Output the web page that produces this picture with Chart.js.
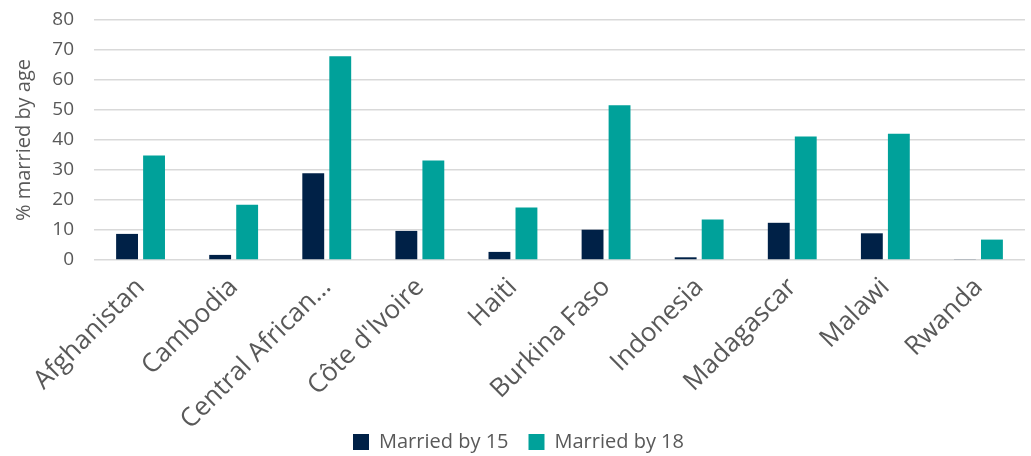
<!DOCTYPE html>
<html>
<head>
<meta charset="utf-8">
<script src="https://cdn.jsdelivr.net/npm/chart.js@4/dist/chart.umd.min.js"></script>
<style>
  html, body { margin: 0; padding: 0; background: #fff; }
  #wrap { width: 1031px; height: 456px; }
</style>
</head>
<body>
<div id="wrap"><canvas id="myChart"></canvas></div>
<script>
const countries = ['Afghanistan', 'Cambodia', 'Central African Republic', "Côte d'Ivoire", 'Haiti',
  'Burkina Faso', 'Indonesia', 'Madagascar', 'Malawi', 'Rwanda'];
const marriedBy15 = [8.7, 1.7, 28.9, 9.7, 2.7, 10.1, 0.9, 12.4, 8.9, 0.3];
const marriedBy18 = [34.8, 18.4, 67.9, 33.2, 17.5, 51.6, 13.5, 41.2, 42.1, 6.8];
const yTicks = [0, 10, 20, 30, 40, 50, 60, 70, 80];

const font = "'Open Sans', sans-serif";
const grey = '#595959';

const ctx = document.getElementById('myChart').getContext('2d');

const myChart = new Chart(ctx, {
  type: 'bar',
  data: {
    labels: countries,
    datasets: [{
      label: 'Married by 15',
      data: marriedBy15,
      backgroundColor: '#002147',
      categoryPercentage: 0.58,
      barPercentage: 0.81,
    }, {
      label: 'Married by 18',
      data: marriedBy18,
      backgroundColor: '#00A19A',
      categoryPercentage: 0.58,
      barPercentage: 0.81,
    }],
  },
  options: {
    responsive: true,
    maintainAspectRatio: false,
    animation: false,
    layout: { padding: { top: 20, right: 6, left: 12, bottom: -6 } },
    plugins: {
      tooltip: { enabled: false },
      legend: {
        position: 'bottom',
        labels: {
          color: grey,
          font: { family: font, size: 20 },
          boxWidth: 16,
          boxHeight: 16,
          padding: 20,
        },
      },
    },
    scales: {
      x: {
        grid: { display: false },
        border: { display: false },
        // Excel lets the rotated labels run down into the legend band
        afterFit: (scale) => {
          scale.height = 152;
          scale.getPadding = () => ({ left: 0, top: 0, right: 0, bottom: 0 });
          scale._computeLabelArea = () => undefined;
        },
        ticks: {
          color: grey,
          font: { family: font, size: 26 },
          minRotation: 45,
          maxRotation: 45,
          padding: 4,
          callback: function (v) {
            const s = this.getLabelForValue(v);
            return s.length > 16 ? s.slice(0, 15) + '…' : s;
          },
        },
      },
      y: {
        min: 0,
        max: 80,
        afterBuildTicks: (axis) => { axis.ticks = yTicks.map(v => ({ value: v })); },
        afterFit: (scale) => {
          scale.width = 82;
          scale.getPadding = () => ({ left: 0, top: 0, right: 0, bottom: 0 });
        },
        grid: { color: '#d9d9d9', lineWidth: 1.5, drawTicks: false },
        border: { display: false },
        ticks: {
          color: grey,
          font: { family: font, size: 19 },
          padding: 20,
        },
        title: {
          display: true,
          text: '% married by age',
          color: grey,
          font: { family: font, size: 20 },
          padding: { top: 0, bottom: 10 },
        },
      },
    },
  },
});
</script>
</body>
</html>
